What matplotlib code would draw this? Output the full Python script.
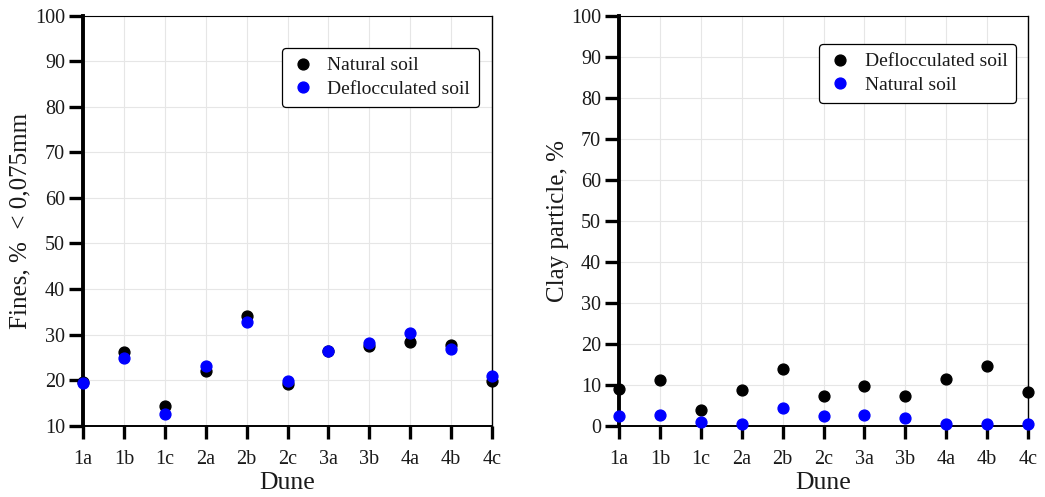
import matplotlib
matplotlib.use("Agg")
import matplotlib.pyplot as plt

plt.rcParams['font.family'] = ['Liberation Serif', 'DejaVu Serif']

dunes = ["1a", "1b", "1c", "2a", "2b", "2c", "3a", "3b", "4a", "4b", "4c"]

# Left panel: fines content (% < 0,075 mm)
fines_natural = [19.5, 26.1, 14.4, 22.0, 34.0, 19.1, 26.5, 27.6, 28.4, 27.7, 19.9]
fines_defloc = [19.4, 24.8, 12.6, 23.0, 32.7, 19.8, 26.5, 28.2, 30.3, 26.9, 21.0]

# Right panel: clay particle (%)
clay_defloc = [8.9, 11.1, 3.8, 8.7, 13.9, 7.2, 9.8, 7.2, 11.5, 14.6, 8.2]
clay_natural = [2.4, 2.6, 0.9, 0.3, 4.3, 2.4, 2.7, 2.0, 0.3, 0.3, 0.3]

W, H = 1045, 497
fig = plt.figure(figsize=(W / 100, H / 100), dpi=100)

ax_w = 409 / W
ax_h = 410 / H
ax_b = (H - 425.7) / H
ax1 = fig.add_axes([83 / W, ax_b, ax_w, ax_h])
ax2 = fig.add_axes([619 / W, ax_b, ax_w, ax_h])

x = list(range(len(dunes)))
ms = 7.8
TXT = '#1a1a1a'


def style(ax, ymin):
    ax.set_xlim(0, len(dunes) - 1)
    ax.set_ylim(ymin, 100)
    ax.set_xticks(x)
    ax.set_xticklabels(dunes)
    ax.set_yticks(list(range(ymin, 101, 10)))
    ax.grid(True, color='#e6e6e6', linewidth=0.8)
    ax.set_axisbelow(True)
    ax.spines['left'].set_linewidth(2.8)
    ax.spines['bottom'].set_linewidth(1.4)
    ax.spines['top'].set_linewidth(0.8)
    ax.spines['right'].set_linewidth(1.0)
    for s in ax.spines.values():
        s.set_color('black')
    ax.tick_params(axis='y', direction='out', length=10, width=2.4,
                   pad=3.0, labelsize=14.5, colors='black', labelcolor=TXT)
    ax.tick_params(axis='x', direction='out', length=9.5, width=2.4,
                   pad=8.0, labelsize=14.5, colors='black', labelcolor=TXT)


ax1.plot(x, fines_natural, 'o', color='black', markersize=ms, clip_on=False,
         label='Natural soil', zorder=3)
ax1.plot(x, fines_defloc, 'o', color='#0000ff', markersize=ms, clip_on=False,
         label='Deflocculated soil', zorder=4)
style(ax1, 10)
ax1.set_ylabel('Fines, %  < 0,075mm', fontsize=18, color=TXT)
ax1.yaxis.set_label_coords(-0.125, 0.5)
ax1.set_xlabel('Dune', fontsize=18.5, color=TXT, va='top')
ax1.xaxis.set_label_coords(0.5, -0.112)

ax2.plot(x, clay_defloc, 'o', color='black', markersize=ms, clip_on=False,
         label='Deflocculated soil', zorder=3)
ax2.plot(x, clay_natural, 'o', color='#0000ff', markersize=ms, clip_on=False,
         label='Natural soil', zorder=4)
style(ax2, 0)
ax2.set_ylabel('Clay particle, %', fontsize=18, color=TXT)
ax2.yaxis.set_label_coords(-0.122, 0.5)
ax2.set_xlabel('Dune', fontsize=18.5, color=TXT, va='top')
ax2.xaxis.set_label_coords(0.5, -0.112)

for ax, anchor in ((ax1, (0.968, 0.921)), (ax2, (0.971, 0.931))):
    leg = ax.legend(loc='upper right', bbox_to_anchor=anchor, fontsize=14,
                    frameon=True, fancybox=True, framealpha=1,
                    edgecolor='black', handletextpad=0.6, labelspacing=0.3,
                    borderpad=0.45, handlelength=1.3, borderaxespad=0)
    leg.get_frame().set_linewidth(0.9)
    for t in leg.get_texts():
        t.set_color(TXT)

fig.savefig('out.png', dpi=100)
